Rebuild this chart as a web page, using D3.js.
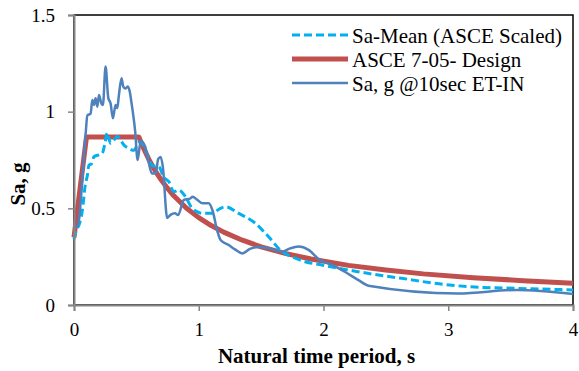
<!DOCTYPE html>
<html>
<head>
<meta charset="utf-8">
<script src="https://cdn.jsdelivr.net/npm/d3@7"></script>
<style>
    body { margin: 0; background: #fff; }
</style>
</head>
<body>
<div id="chart"></div>
<script>
// Sa-Mean (ASCE Scaled)
const meanPeriods = [0, 0.02, 0.04, 0.067, 0.09, 0.107, 0.12, 0.14, 0.16, 0.2, 0.227, 0.248, 0.267, 0.293, 0.32, 0.347, 0.373, 0.4, 0.44, 0.48, 0.52, 0.547, 0.587, 0.63, 0.68, 0.72, 0.76, 0.8, 0.84, 0.893, 0.947, 0.987, 1.027, 1.107, 1.173, 1.213, 1.32, 1.453, 1.56, 1.667, 1.747, 1.853, 1.987, 2.12, 2.28, 2.44, 2.627, 2.893, 3.16, 3.56, 4.0];
const meanValues = [0.34, 0.39, 0.414, 0.49, 0.62, 0.67, 0.724, 0.73, 0.767, 0.776, 0.785, 0.836, 0.89, 0.836, 0.853, 0.871, 0.853, 0.828, 0.81, 0.8, 0.84, 0.836, 0.776, 0.72, 0.715, 0.66, 0.638, 0.586, 0.595, 0.56, 0.5, 0.483, 0.474, 0.474, 0.5, 0.508, 0.474, 0.423, 0.353, 0.276, 0.25, 0.224, 0.207, 0.19, 0.172, 0.155, 0.138, 0.112, 0.095, 0.086, 0.078];

// ASCE 7-05- Design
const designPeriods = [0, 0.1, 0.52, 0.55, 0.6, 0.65, 0.7, 0.75, 0.8, 0.9, 1.0, 1.1, 1.2, 1.35, 1.5, 1.7, 1.9, 2.2, 2.5, 2.8, 3.2, 3.6, 4.0];
const designValues = [0.35, 0.869, 0.869, 0.822, 0.753, 0.695, 0.646, 0.603, 0.565, 0.502, 0.452, 0.411, 0.377, 0.335, 0.301, 0.266, 0.238, 0.205, 0.181, 0.161, 0.141, 0.126, 0.113];

// Sa, g @10sec ET-IN
const recordPeriods = [0, 0.025, 0.04, 0.07, 0.095, 0.107, 0.133, 0.147, 0.16, 0.173, 0.187, 0.2, 0.219, 0.232, 0.253, 0.275, 0.293, 0.312, 0.333, 0.347, 0.36, 0.381, 0.395, 0.413, 0.432, 0.448, 0.46, 0.49, 0.51, 0.535, 0.57, 0.6, 0.625, 0.655, 0.675, 0.695, 0.712, 0.747, 0.773, 0.81, 0.835, 0.88, 0.93, 0.95, 0.99, 1.03, 1.08, 1.11, 1.15, 1.175, 1.24, 1.29, 1.35, 1.41, 1.48, 1.56, 1.667, 1.733, 1.8, 1.88, 1.97, 2.07, 2.17, 2.28, 2.36, 3.08, 3.55, 4.0];
const recordValues = [0.405, 0.405, 0.44, 0.68, 0.9, 0.98, 0.99, 1.06, 1.035, 1.07, 1.026, 1.086, 1.043, 1.035, 1.233, 1.07, 1.043, 0.966, 1.035, 1.018, 1.086, 1.173, 1.13, 1.12, 1.13, 1.1, 1.05, 0.9, 0.75, 0.85, 0.82, 0.733, 0.68, 0.68, 0.755, 0.765, 0.715, 0.45, 0.466, 0.474, 0.466, 0.543, 0.55, 0.56, 0.543, 0.526, 0.526, 0.49, 0.38, 0.336, 0.31, 0.288, 0.267, 0.29, 0.3, 0.293, 0.276, 0.293, 0.302, 0.285, 0.233, 0.207, 0.172, 0.129, 0.1, 0.06, 0.078, 0.057];

const xTicks = [0, 1, 2, 3, 4];
const yTicks = [0, 0.5, 1, 1.5];

const seriesNames = ["Sa-Mean (ASCE Scaled)", "ASCE 7-05- Design", "Sa, g @10sec ET-IN"];

const width = 579;
const height = 371;
const margin = {top: 15, right: 5, bottom: 66, left: 74};
const serif = "'Liberation Serif', 'Times New Roman', Times, serif";

const svg = d3.select("#chart").append("svg")
    .attr("width", width)
    .attr("height", height)
    .style("display", "block");

const x = d3.scaleLinear().domain([0, 4]).range([margin.left, width - margin.right - 1]);
const y = d3.scaleLinear().domain([0, 1.5]).range([height - margin.bottom, margin.top]);

const toPoints = (periods, values) => periods.map((p, i) => [p, values[i]]);

const series = [
    {name: seriesNames[0], points: toPoints(meanPeriods, meanValues), color: "#00B0F0", width: 3, dash: "8,4", curve: d3.curveMonotoneX},
    {name: seriesNames[1], points: toPoints(designPeriods, designValues), color: "#C0504D", width: 5, dash: null, curve: d3.curveLinear},
    {name: seriesNames[2], points: toPoints(recordPeriods, recordValues), color: "#4F81BD", width: 2.5, dash: null, curve: d3.curveMonotoneX}
];

// plot area border (top/right show as black)
svg.append("rect")
    .attr("x", x(0))
    .attr("y", y(1.5))
    .attr("width", x(4) - x(0))
    .attr("height", y(0) - y(1.5))
    .attr("fill", "none")
    .attr("stroke", "#000")
    .attr("stroke-width", 1.5);

// draw order: design underneath, then mean, then record
[series[1], series[0], series[2]].forEach((s) => {
    const line = d3.line()
        .x((d) => x(d[0]))
        .y((d) => y(d[1]))
        .curve(s.curve);

    svg.append("path")
        .datum(s.points)
        .attr("d", line)
        .attr("fill", "none")
        .attr("stroke", s.color)
        .attr("stroke-width", s.width)
        .attr("stroke-dasharray", s.dash)
        .attr("stroke-linejoin", "round");
});

const xAxis = svg.append("g")
    .attr("transform", `translate(0,${y(0)})`)
    .call(d3.axisBottom(x).tickValues(xTicks).tickFormat(d3.format("d")).tickSizeOuter(0).tickSize(6).tickPadding(11.5));

const yAxis = svg.append("g")
    .attr("transform", `translate(${x(0)},0)`)
    .call(d3.axisLeft(y).tickValues(yTicks).tickFormat((d) => d).tickSizeOuter(0).tickSize(6).tickPadding(13));

[xAxis, yAxis].forEach((axis) => {
    axis.attr("font-family", serif).attr("font-size", 19);
    axis.select(".domain").attr("stroke", "#868686").attr("stroke-width", 2);
    axis.selectAll(".tick line").attr("stroke", "#868686").attr("stroke-width", 1.5);
    axis.selectAll(".tick text").attr("fill", "#000");
});

svg.append("text")
    .attr("x", (x(0) + x(4)) / 2 - 7)
    .attr("y", 363)
    .attr("text-anchor", "middle")
    .attr("font-family", serif)
    .attr("font-size", 21)
    .attr("font-weight", "bold")
    .text("Natural time period, s");

svg.append("text")
    .attr("transform", `translate(25,184) rotate(-90)`)
    .attr("text-anchor", "middle")
    .attr("font-family", serif)
    .attr("font-size", 21)
    .attr("font-weight", "bold")
    .text("Sa, g");

// legend
const legend = svg.append("g").attr("transform", "translate(292,35)");

series.forEach((s, i) => {
    const row = legend.append("g").attr("transform", `translate(0,${i * 24})`);
    row.append("line")
        .attr("x1", 0)
        .attr("x2", 56)
        .attr("stroke", s.color)
        .attr("stroke-width", s.width)
        .attr("stroke-dasharray", s.dash);
    row.append("text")
        .attr("x", 60)
        .attr("y", 7.5)
        .attr("font-family", serif)
        .attr("font-size", 21)
        .text(s.name);
});
</script>
</body>
</html>
